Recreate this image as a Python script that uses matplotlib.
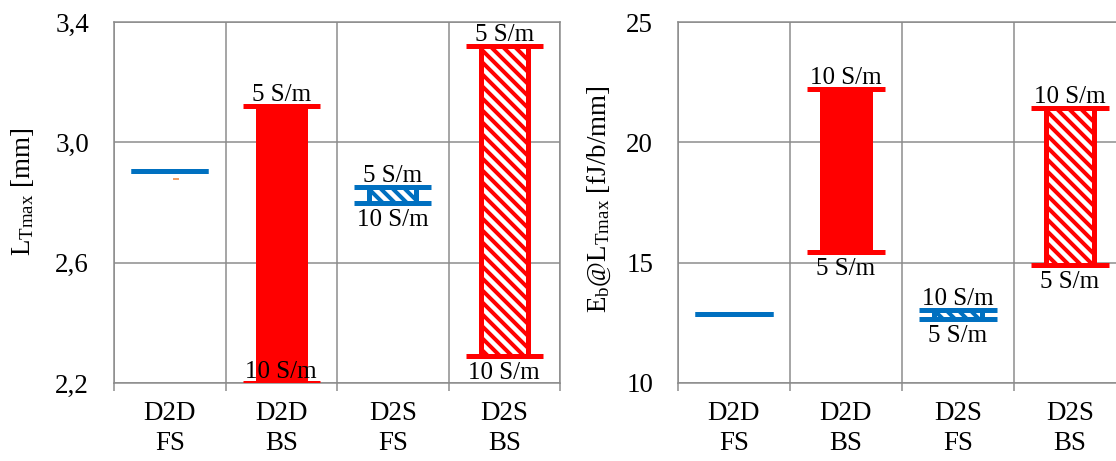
import matplotlib
matplotlib.use("Agg")
import matplotlib.pyplot as plt
import numpy as np

plt.rcParams["font.family"] = ["Liberation Serif", "DejaVu Serif"]
plt.rcParams["mathtext.fontset"] = "custom"
plt.rcParams["mathtext.rm"] = "Liberation Serif"
plt.rcParams["mathtext.it"] = "Liberation Serif:italic"
plt.rcParams["hatch.linewidth"] = 4.0

categories = ["D2D\nFS", "D2D\nBS", "D2S\nFS", "D2S\nBS"]
colors = ["#0070C0", "#FF0000", "#0070C0", "#FF0000"]
hatched = [False, False, True, True]
show_labels = [False, True, True, True]

# left panel: L_Tmax [mm] for 5 S/m and 10 S/m
lt_5 = [2.905, 3.12, 2.85, 3.32]
lt_10 = [2.905, 2.20, 2.80, 2.29]
lt_ticks = [2.2, 2.6, 3.0, 3.4]
lt_ticklabels = ["2,2", "2,6", "3,0", "3,4"]
lt_orange = 2.878          # stray tiny orange mark under D2D FS

# right panel: Eb @ L_Tmax [fJ/b/mm]
eb_5 = [12.87, 15.44, 12.66, 14.90]
eb_10 = [12.87, 22.20, 13.03, 21.43]
eb_ticks = [10, 15, 20, 25]
eb_ticklabels = ["10", "15", "20", "25"]

GRID = "#8A8A8A"
DPI = 72
fig = plt.figure(figsize=(1116 / DPI, 461 / DPI), dpi=DPI)
ax1 = fig.add_axes([114 / 1116, 78 / 461, 446 / 1116, 361 / 461])
ax2 = fig.add_axes([678 / 1116, 78 / 461, 448 / 1116, 361 / 461])


def panel(ax, v5, v10, ticks, ticklabels, ylabel, label_xy):
    x = np.arange(len(categories))
    ymin, ymax = ticks[0], ticks[-1]
    for i in x:
        lo, hi = min(v5[i], v10[i]), max(v5[i], v10[i])
        c = colors[i]
        if hi > lo:
            ax.bar(i, hi - lo, bottom=lo, width=0.42,
                   facecolor="white" if hatched[i] else c, edgecolor=c, lw=5,
                   hatch="\\\\" if hatched[i] else None, zorder=2)
        ax.hlines([lo, hi], i - 0.345, i + 0.345, colors=c, lw=5, zorder=3,
                  capstyle="butt")
        if not show_labels[i]:
            continue
        hi_txt = "5 S/m" if v5[i] >= v10[i] else "10 S/m"
        lo_txt = "10 S/m" if v5[i] >= v10[i] else "5 S/m"
        ax.annotate(hi_txt, (i, hi), xytext=(0, 5), textcoords="offset points",
                    ha="center", va="baseline", fontsize=25, zorder=4)
        if lo <= ymin + 1e-9:
            ax.annotate(lo_txt, (i, lo), xytext=(0, 5), textcoords="offset points",
                        ha="center", va="baseline", fontsize=25, zorder=4)
        else:
            ax.annotate(lo_txt, (i, lo), xytext=(0, -6), textcoords="offset points",
                        ha="center", va="top", fontsize=25, zorder=4)

    ax.set_xlim(-0.5, len(categories) - 0.5)
    ax.set_ylim(ymin, ymax)
    ax.set_xticks(x)
    ax.set_xticklabels(categories, fontsize=27, linespacing=1.25)
    ax.set_xticks(np.arange(len(categories) + 1) - 0.5, minor=True)
    ax.set_yticks(ticks)
    ax.set_yticklabels(ticklabels, fontsize=27)
    ax.tick_params(axis="x", which="major", length=0, pad=18)
    ax.tick_params(axis="x", which="minor", length=8, width=1.5, color=GRID)
    ax.tick_params(axis="y", length=0, pad=25)
    ax.grid(True, axis="y", which="major", color=GRID, lw=1.5)
    ax.grid(True, axis="x", which="minor", color=GRID, lw=1.5)
    ax.set_axisbelow(True)
    for s in ax.spines.values():
        s.set_color(GRID)
        s.set_linewidth(1.5)
    ax.set_ylabel(ylabel, fontsize=27)
    ax.yaxis.set_label_coords(*label_xy)


panel(ax1, lt_5, lt_10, lt_ticks, lt_ticklabels, r"L$_{\mathrm{Tmax}}$ [mm]",
      (-0.176, 0.53))
ax1.hlines(lt_orange, 0.03, 0.08, colors="#ED7D31", lw=1.5, zorder=3)
panel(ax2, eb_5, eb_10, eb_ticks, eb_ticklabels,
      r"E$_{\mathrm{b}}$@L$_{\mathrm{Tmax}}$ [fJ/b/mm]", (-0.145, 0.51))

fig.savefig("out.png", dpi=DPI)
